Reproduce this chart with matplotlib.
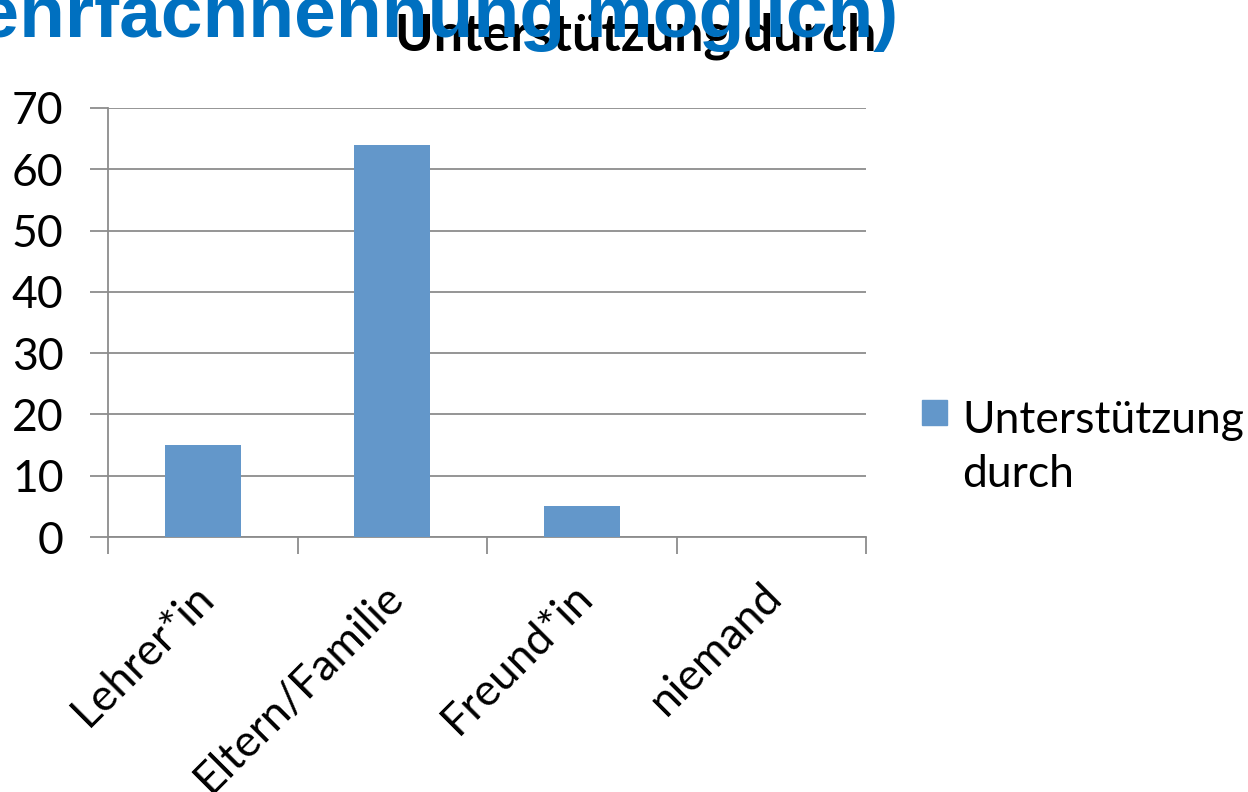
import matplotlib
matplotlib.use("Agg")
import matplotlib.pyplot as plt
from matplotlib.patches import Rectangle
from matplotlib.transforms import ScaledTranslation

categories = ["Lehrer*in", "Eltern/Familie", "Freund*in", "niemand"]
values = [15, 64, 5, 0]
series_name = ["Unterstützung", "durch"]
title = "Unterstützung durch"
subtitle = "(Mehrfachnennung möglich)"
yticks = [0, 10, 20, 30, 40, 50, 60, 70]

W, H = 1248, 792
fig = plt.figure(figsize=(W / 100, H / 100), dpi=100)
ax = fig.add_axes([108 / W, 1 - 537 / H, (866 - 108) / W, (537 - 108) / H])

bar_color = "#6397CA"
grid_color = "#8C8C8C"
FS = 32
x = list(range(len(categories)))
ax.bar(x, values, width=0.4, color=bar_color, zorder=3)
ax.set_xlim(-0.5, len(categories) - 0.5)
ax.set_ylim(0, 70)
ax.set_yticks(yticks)
ax.set_yticklabels([str(v) for v in yticks], fontsize=FS, family="Lato")
ax.yaxis.grid(True, color=grid_color, linewidth=1.3, zorder=0)
ax.tick_params(axis="y", length=13, width=1.3, color=grid_color, pad=19)

# category ticks at boundaries
ax.set_xticks([i - 0.5 for i in range(len(categories) + 1)])
ax.set_xticklabels([])
ax.tick_params(axis="x", length=12, width=1.3, color=grid_color)
ax.set_xticks(x, minor=True)
ax.set_xticklabels(categories, minor=True, rotation=45, ha="right",
                   rotation_mode="anchor", fontsize=FS, family="Lato")
ax.tick_params(axis="x", which="minor", length=0, pad=28)
offset = ScaledTranslation(-10 / 100, 0, fig.dpi_scale_trans)
for lbl in ax.get_xticklabels(minor=True):
    lbl.set_transform(lbl.get_transform() + offset)

for s in ["top", "right"]:
    ax.spines[s].set_visible(False)
for s in ["left", "bottom"]:
    ax.spines[s].set_color(grid_color)
    ax.spines[s].set_linewidth(1.3)

# legend (manual, to match the single-square + wrapped label layout)
fig.add_artist(Rectangle((922 / W, 1 - 425 / H), 25 / W, 25 / H,
                         transform=fig.transFigure, color=bar_color))
for i, line in enumerate(series_name):
    fig.text(962 / W, 1 - (433 + 54 * i) / H, line, ha="left", va="baseline",
             fontsize=FS, family="Lato")

fig.text(636 / W, 1 - 50 / H, title, ha="center", va="baseline",
         fontsize=37.5, fontweight="bold", color="black", family="Lato", zorder=5)
fig.text(898 / W, 1 - 37 / H, subtitle, ha="right", va="baseline",
         fontsize=54, fontweight="bold", color="#0070C0", family="Liberation Sans",
         zorder=6)

fig.savefig("out.png", dpi=100)
